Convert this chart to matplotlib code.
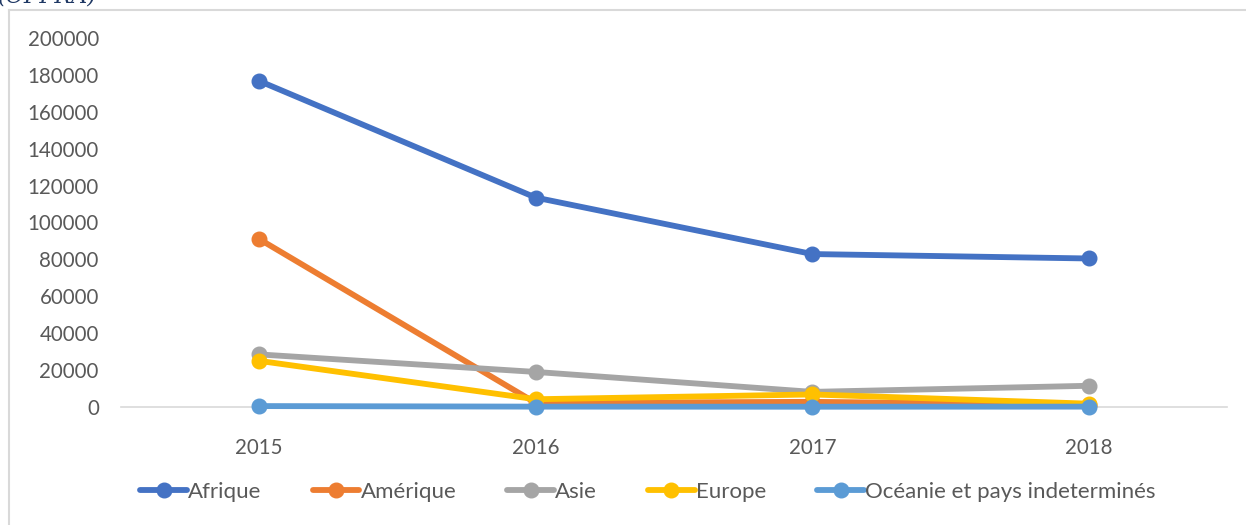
import matplotlib.pyplot as plt
from matplotlib.lines import Line2D

years = ["2015", "2016", "2017", "2018"]
afrique = [176700, 113500, 82900, 80500]
amerique = [91000, 2200, 2800, 1200]
asie = [28500, 19000, 8200, 11500]
europe = [25000, 4200, 6800, 1800]
oceanie = [500, 200, 150, 200]

series = [
    ("Afrique", afrique, "#4472C4"),
    ("Amérique", amerique, "#ED7D31"),
    ("Asie", asie, "#A5A5A5"),
    ("Europe", europe, "#FFC000"),
    ("Océanie et pays indeterminés", oceanie, "#5B9BD5"),
]

plt.rcParams['font.family'] = ['Lato', 'DejaVu Sans']

W, H = 1246, 525
fig = plt.figure(figsize=(W / 100, H / 100), dpi=100)
ax = fig.add_axes([121 / W, (H - 407) / H, (1227 - 121) / W, (407 - 38) / H])

x = range(len(years))
for name, vals, col in series:
    ax.plot(x, vals, color=col, lw=4.2, marker="o", ms=10.5, label=name,
            solid_capstyle="round")

ax.set_xlim(-0.5, 3.5)
ax.set_ylim(0, 200000)
ax.set_yticks(range(0, 200001, 20000))
ax.set_yticklabels([str(v) for v in range(0, 200001, 20000)])
ax.set_xticks(list(x))
ax.set_xticklabels(years)
ax.tick_params(axis="both", length=0, labelsize=14.8, colors="#595959")
ax.tick_params(axis="y", pad=16)
ax.tick_params(axis="x", pad=22)
for s in ["top", "right", "left"]:
    ax.spines[s].set_visible(False)
ax.spines["bottom"].set_color("#D9D9D9")
ax.spines["bottom"].set_linewidth(1.2)
ax.spines["bottom"].set_zorder(0)
for ln in ax.lines:
    ln.set_clip_on(False)

fig.legend(loc="center", bbox_to_anchor=(648 / W, (H - 492) / H), ncol=5,
           frameon=False, fontsize=16, handlelength=2.1, columnspacing=2.3,
           handletextpad=0.05, labelcolor="#595959")

# outer chart border (partially cropped)
fig.add_artist(Line2D([9 / W, 9 / W], [0, (H - 10) / H], color="#D9D9D9", lw=1.5))
fig.add_artist(Line2D([9 / W, 1], [(H - 10) / H, (H - 10) / H], color="#D9D9D9", lw=1.5))

# cropped caption text above the chart (cut off in the source image)
fig.text(-2 / W, 1 + 4 / H, "(OFPRA)", ha="left", va="center", fontsize=16,
         family="DejaVu Serif", style="italic", color="#1F3864")

fig.savefig("out.png", dpi=100)
